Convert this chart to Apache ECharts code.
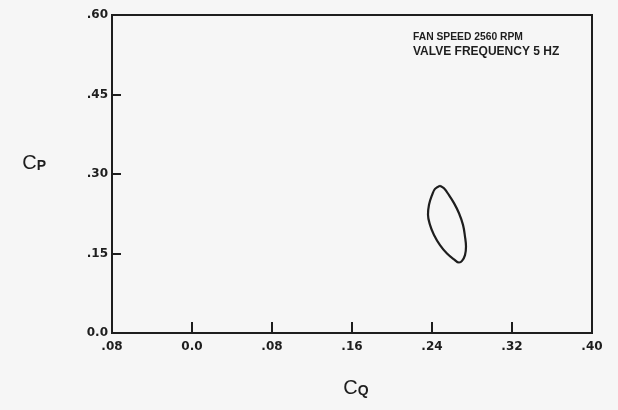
<!DOCTYPE html>
<html>
<head>
<meta charset="utf-8">
<script src="https://cdn.jsdelivr.net/npm/echarts@6/dist/echarts.min.js"></script>
<style>
  html, body { margin: 0; padding: 0; background: #f6f6f6; }
  #chart { width: 618px; height: 410px; }
</style>
</head>
<body>
<div id="chart"></div>
<script>
// Pressure/flow loop for the fan at 2560 RPM, valve pulsing at 5 Hz
const cqValues = [0.248, 0.252, 0.257, 0.262, 0.267, 0.271, 0.273, 0.274, 0.273, 0.270, 0.267,
                  0.262, 0.255, 0.248, 0.242, 0.238, 0.236, 0.237, 0.240, 0.243, 0.248];
const cpValues = [0.278, 0.273, 0.260, 0.245, 0.226, 0.204, 0.182, 0.163, 0.147, 0.136, 0.133,
                  0.139, 0.150, 0.166, 0.185, 0.204, 0.223, 0.242, 0.260, 0.272, 0.278];

// Axis tick labels, as printed
const xTickValues = [-0.08, 0.0, 0.08, 0.16, 0.24, 0.32, 0.40];
const xTickLabels = ['.08', '0.0', '.08', '.16', '.24', '.32', '.40'];
const yTickValues = [0.0, 0.15, 0.30, 0.45, 0.60];
const yTickLabels = ['0.0', '.15', '.30', '.45', '.60'];

const annotationLines = ['FAN SPEED 2560 RPM', 'VALVE FREQUENCY 5 HZ'];

const loopData = cqValues.map((x, i) => [x, cpValues[i]]);

function labelFor(values, labels) {
  return function (v) {
    for (let i = 0; i < values.length; i++) {
      if (Math.abs(values[i] - v) < 1e-6) return labels[i];
    }
    return '';
  };
}

const chart = echarts.init(document.getElementById('chart'), null, { renderer: 'canvas' });
const ink = '#1e1e1e';
const font = '"Liberation Sans", Arial, sans-serif';
const tickFont = '"DejaVu Sans", sans-serif';

chart.setOption({
  backgroundColor: '#f6f6f6',
  animation: false,
  grid: {
    left: 112, right: 26, top: 15, bottom: 77,
    show: true, borderColor: ink, borderWidth: 2, backgroundColor: 'transparent'
  },
  xAxis: {
    type: 'value', min: -0.08, max: 0.40, interval: 0.08,
    axisLine: { show: true, onZero: false, lineStyle: { color: ink, width: 2 } },
    axisTick: { show: true, inside: true, length: 11, lineStyle: { color: ink, width: 2 } },
    splitLine: { show: false },
    axisLabel: {
      color: ink, fontFamily: tickFont, fontWeight: 'bold', fontSize: 12, margin: 8,
      formatter: labelFor(xTickValues, xTickLabels)
    },
    name: '{c|C}{s|Q}',
    nameLocation: 'middle', nameGap: 45,
    nameTextStyle: {
      rich: {
        c: { fontFamily: font, fontSize: 20, color: ink },
        s: { fontFamily: font, fontSize: 14, fontWeight: 'bold', color: ink, padding: [6, 0, 0, 0] }
      },
      padding: [0, 0, 0, 8]
    }
  },
  yAxis: {
    type: 'value', min: 0, max: 0.60, interval: 0.15,
    axisLine: { show: true, onZero: false, lineStyle: { color: ink, width: 2 } },
    axisTick: { show: true, inside: true, length: 9, lineStyle: { color: ink, width: 2 } },
    splitLine: { show: false },
    axisLabel: {
      color: ink, fontFamily: tickFont, fontWeight: 'bold', fontSize: 12, margin: 4,
      formatter: labelFor(yTickValues, yTickLabels)
    },
    name: '{c|C}{s|P}',
    nameLocation: 'middle', nameRotate: 0, nameGap: 66,
    nameTextStyle: {
      rich: {
        c: { fontFamily: font, fontSize: 20, color: ink },
        s: { fontFamily: font, fontSize: 14, fontWeight: 'bold', color: ink, padding: [6, 0, 0, 0] }
      },
      padding: [0, 0, 22, 0]
    }
  },
  graphic: [{
    type: 'text', left: 413, top: 32,
    style: {
      text: '{a|' + annotationLines[0] + '}\n{b|' + annotationLines[1] + '}',
      rich: {
        a: { fill: ink, font: 'bold 10.3px ' + font, lineHeight: 15 },
        b: { fill: ink, font: 'bold 12px ' + font, lineHeight: 15 }
      }
    }
  }],
  series: [{
    type: 'line',
    data: loopData,
    smooth: 0.4,
    showSymbol: false,
    lineStyle: { color: ink, width: 2.2 }
  }]
});
</script>
</body>
</html>
